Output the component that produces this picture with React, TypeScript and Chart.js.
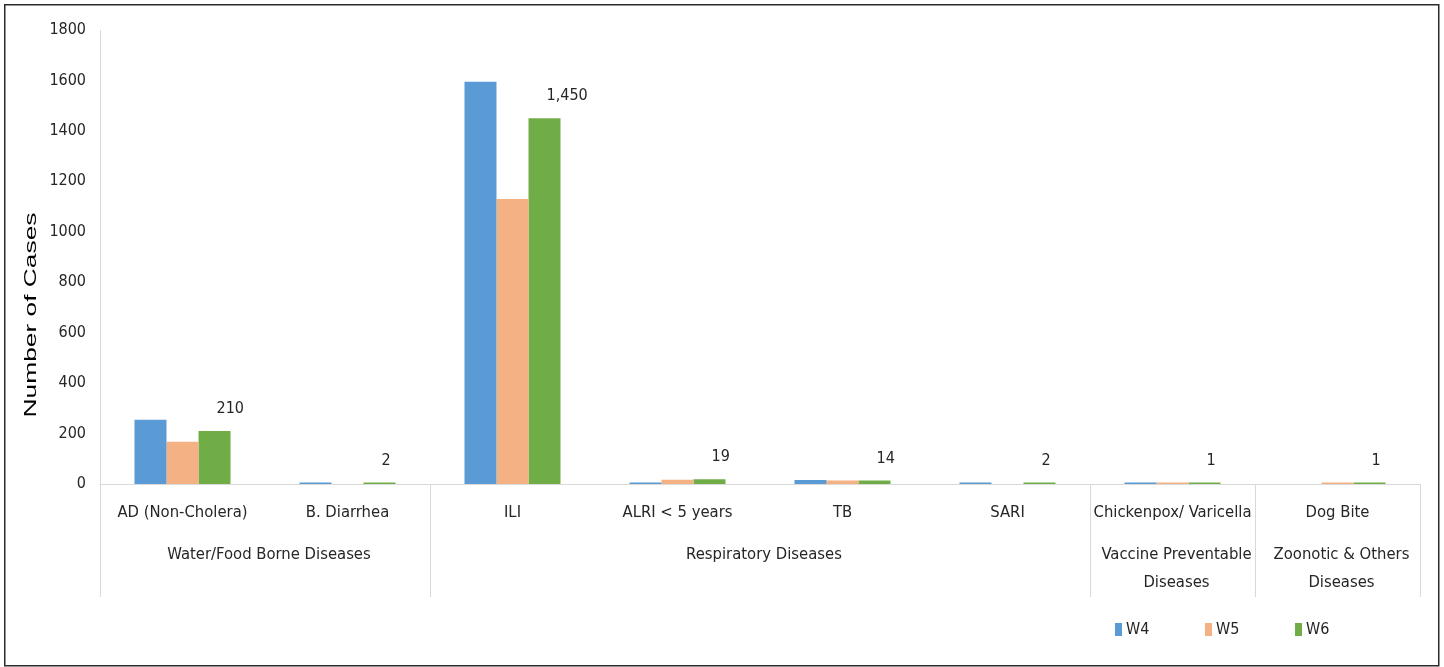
import React, { useEffect, useRef } from "react";
import { Chart, registerables } from "chart.js";

Chart.register(...registerables);

// Weekly case counts per disease
const categories = [
  "AD (Non-Cholera)",
  "B. Diarrhea",
  "ILI",
  "ALRI < 5 years",
  "TB",
  "SARI",
  "Chickenpox/ Varicella",
  "Dog Bite",
];
const w4Cases = [255, 3, 1595, 6, 16, 3, 2, null];
const w5Cases = [168, null, 1130, 17, 14, null, 1, 1];
const w6Cases = [210, 2, 1450, 19, 14, 2, 1, 1];

// Disease groups shown beneath the category labels
const groupLabels = [
  ["Water/Food Borne Diseases"],
  ["Respiratory Diseases"],
  ["Vaccine Preventable", "Diseases"],
  ["Zoonotic & Others", "Diseases"],
];
const groupSizes = [2, 4, 1, 1];

const yMax = 1800;
const yStep = 200;

const NARROW = '"Liberation Sans Narrow", "DejaVu Sans Condensed", sans-serif';
const TEXT = "#262626";
const RULE = "#d9d9d9";

const seriesNames = ["W4", "W5", "W6"];
const seriesColors = ["#5b9bd5", "#f4b183", "#70ad47"];

const fmt = (v: number) => v.toLocaleString("en-US");

const decorations = {
  id: "decorations",
  afterDraw(chart: any) {
    const { ctx, chartArea } = chart;
    const xs = chart.scales.x;
    const n = categories.length;
    const cw = (xs.right - xs.left) / n;
    ctx.save();

    // outer frame
    ctx.strokeStyle = "#2b2b2b";
    ctx.lineWidth = 1.5;
    ctx.strokeRect(4.75, 4.75, 1434, 661);

    // y-axis title
    ctx.save();
    ctx.translate(32, 315);
    ctx.rotate(-Math.PI / 2);
    ctx.font = '16px "Liberation Sans", Arial, sans-serif';
    const tw = ctx.measureText("Number of Cases").width;
    ctx.scale(205 / tw, 1);
    ctx.fillStyle = "#000";
    ctx.textAlign = "center";
    ctx.textBaseline = "middle";
    ctx.fillText("Number of Cases", 0, 0);
    ctx.restore();

    // group separators
    const base = chartArea.bottom;
    ctx.strokeStyle = RULE;
    ctx.lineWidth = 1;
    let acc = 0;
    const bounds = [0];
    groupSizes.forEach((s) => {
      acc += s;
      bounds.push(acc);
    });
    bounds.forEach((b) => {
      const x = Math.round(xs.left + b * cw) + 0.5;
      ctx.beginPath();
      ctx.moveTo(x, base);
      ctx.lineTo(x, base + 113);
      ctx.stroke();
    });

    // category labels
    ctx.fillStyle = TEXT;
    ctx.textAlign = "center";
    ctx.textBaseline = "middle";
    ctx.font = `16.5px ${NARROW}`;
    categories.forEach((c, i) => {
      ctx.fillText(c, xs.getPixelForValue(i), base + 29);
    });

    // group labels
    groupLabels.forEach((lines, g) => {
      const cx = xs.left + ((bounds[g] + bounds[g + 1]) / 2) * cw + 4;
      lines.forEach((t, li) => {
        ctx.fillText(t, cx, base + 71 + li * 28);
      });
    });

    // value labels on the latest week
    const meta = chart.getDatasetMeta(2);
    ctx.font = `16px ${NARROW}`;
    ctx.textAlign = "left";
    w6Cases.forEach((v, i) => {
      if (v == null) return;
      const el = meta.data[i];
      ctx.fillText(fmt(v), el.x + 2, el.y - 22);
    });

    // legend
    seriesNames.forEach((name, i) => {
      const lx = 1115 + i * 90;
      ctx.fillStyle = seriesColors[i];
      ctx.fillRect(lx, 623, 7, 13);
      ctx.fillStyle = TEXT;
      ctx.font = `16px ${NARROW}`;
      ctx.textBaseline = "middle";
      ctx.fillText(name, lx + 11, 630);
    });

    ctx.restore();
  },
};

export default function App() {
  const ref = useRef<HTMLCanvasElement | null>(null);

  useEffect(() => {
    if (!ref.current) return;
    const chart = new Chart(ref.current, {
      type: "bar",
      data: {
        labels: categories,
        datasets: [w4Cases, w5Cases, w6Cases].map((d, i) => ({
          label: seriesNames[i],
          data: d,
          backgroundColor: seriesColors[i],
          borderWidth: 0,
          minBarLength: 1.5,
          categoryPercentage: 0.582,
          barPercentage: 1,
        })),
      },
      options: {
        responsive: false,
        animation: false,
        layout: { padding: { left: 0, top: 30, right: 24, bottom: 183 } },
        plugins: {
          legend: { display: false },
          tooltip: { enabled: false },
        },
        scales: {
          x: {
            grid: { display: false, drawTicks: false },
            ticks: { display: false },
            border: { display: true, color: RULE, width: 1 },
            afterFit: (s: any) => {
              s.height = 0;
            },
          },
          y: {
            min: 0,
            max: yMax,
            grid: { display: false, drawTicks: false },
            border: { display: true, color: RULE, width: 1 },
            ticks: {
              stepSize: yStep,
              padding: 14,
              color: TEXT,
              font: { family: NARROW, size: 16 },
              callback: (v: any) => String(v),
            },
            afterFit: (s: any) => {
              s.width = 100;
            },
          },
        },
      },
      plugins: [decorations],
    });
    return () => chart.destroy();
  }, []);

  return (
    <div style={{ position: "fixed", left: 0, top: 0, width: 1444, height: 667, background: "#fff" }}>
      <canvas ref={ref} width={1444} height={667} style={{ width: 1444, height: 667, display: "block" }} />
    </div>
  );
}
